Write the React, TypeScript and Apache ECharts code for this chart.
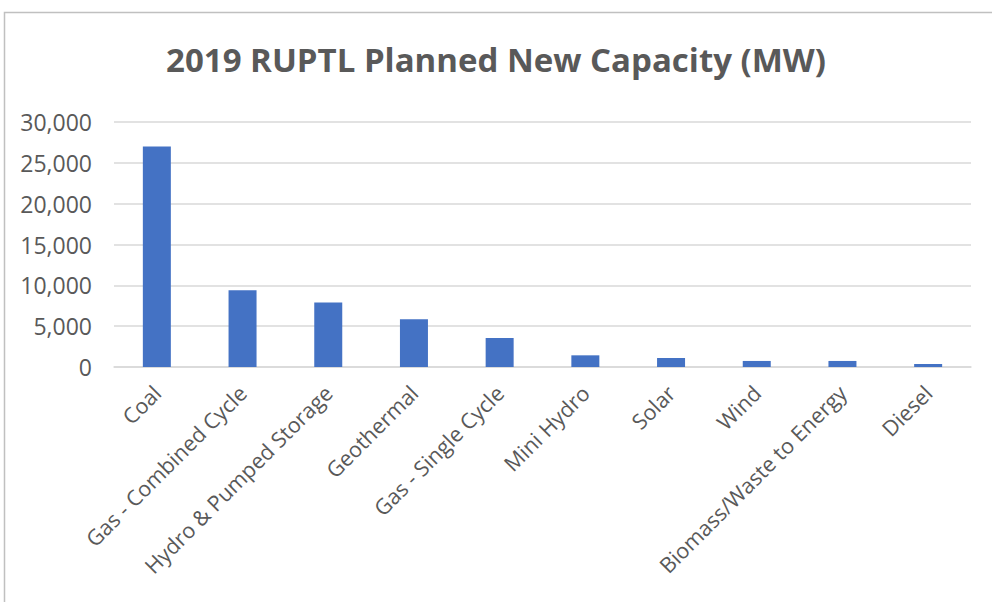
import React, { useEffect, useRef } from "react";
import * as echarts from "echarts";

const categories = [
  "Coal",
  "Gas - Combined Cycle",
  "Hydro & Pumped Storage",
  "Geothermal",
  "Gas - Single Cycle",
  "Mini Hydro",
  "Solar",
  "Wind",
  "Biomass/Waste to Energy",
  "Diesel",
];
const capacityMW = [27000, 9400, 7900, 5850, 3550, 1430, 1100, 740, 740, 370];
const chartTitle = "2019 RUPTL Planned New Capacity (MW)";

export default function App() {
  const ref = useRef<HTMLDivElement>(null);
  useEffect(() => {
    if (!ref.current) return;
    const chart = echarts.init(ref.current, undefined, { renderer: "svg" });
    chart.setOption({
      animation: false,
      backgroundColor: "#ffffff",
      title: {
        text: chartTitle,
        left: "center",
        top: 38,
        textStyle: {
          fontFamily: "Open Sans",
          fontWeight: "bold",
          fontSize: 33,
          color: "#595959",
        },
      },
      graphic: [
        {
          type: "rect",
          shape: { x: 4.5, y: 12.5, width: 1000, height: 620 },
          style: { fill: "none", stroke: "#c0c0c0", lineWidth: 1.5 },
          silent: true,
        },
      ],
      grid: { left: 114, right: 21, top: 122, bottom: 235, containLabel: false },
      xAxis: {
        type: "category",
        data: categories,
        axisLine: { show: true, lineStyle: { color: "#d9d9d9", width: 1.5 } },
        axisTick: { show: false },
        axisLabel: {
          interval: 0,
          rotate: 45,
          margin: 22,
          fontFamily: "Open Sans",
          fontSize: 21.5,
          color: "#595959",
        },
      },
      yAxis: {
        type: "value",
        min: 0,
        max: 30000,
        interval: 5000,
        axisLine: { show: false },
        axisTick: { show: false },
        splitLine: { lineStyle: { color: "#d9d9d9", width: 1.5 } },
        axisLabel: {
          margin: 22,
          fontFamily: "Open Sans",
          fontSize: 23,
          color: "#595959",
          formatter: (v: number) => v.toLocaleString("en-US"),
        },
      },
      series: [
        {
          type: "bar",
          data: capacityMW,
          barWidth: 28,
          itemStyle: { color: "#4472C4" },
        },
      ],
    });
    return () => chart.dispose();
  }, []);
  return (
    <div
      ref={ref}
      style={{ position: "fixed", left: 0, top: 0, width: 992, height: 602 }}
    />
  );
}
